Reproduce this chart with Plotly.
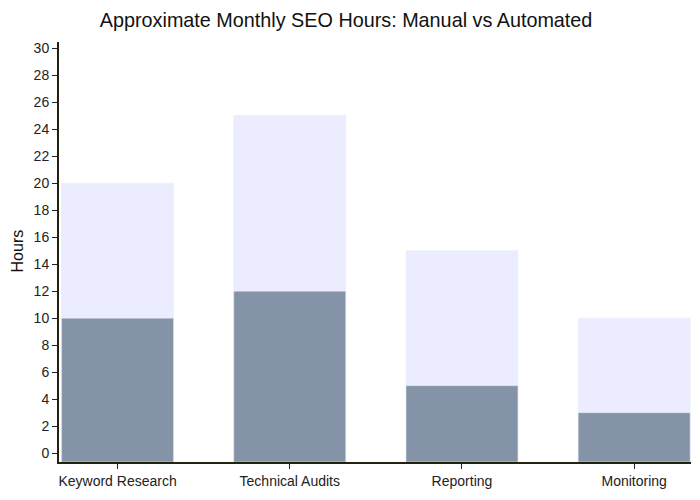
import plotly.graph_objects as go

# Monthly SEO hours per task
tasks = ["Keyword Research", "Technical Audits", "Reporting", "Monitoring"]
manual_hours = [20, 25, 15, 10]
automated_hours = [10, 12, 5, 3]
y_ticks = list(range(0, 31, 2))

# bars are drawn down to the bottom of the axis, like the original
y_floor = -0.65
y_top = 30.45

fig = go.Figure()

fig.add_trace(go.Bar(
    name="Manual",
    x=tasks,
    y=[v - y_floor for v in manual_hours],
    base=y_floor,
    marker_color="#ECECFF",
    width=0.65,
))

fig.add_trace(go.Bar(
    name="Automated",
    x=tasks,
    y=[v - y_floor for v in automated_hours],
    base=y_floor,
    marker_color="#8593A8",
    width=0.65,
))

fig.update_layout(
    width=700,
    height=500,
    barmode="overlay",
    showlegend=False,
    plot_bgcolor="white",
    paper_bgcolor="white",
    font=dict(family="Liberation Sans, Arial, sans-serif", size=14, color="#222222"),
    title=dict(
        text="Approximate Monthly SEO Hours: Manual vs Automated",
        x=0.483,
        xanchor="center",
        yref="container",
        y=0.976,
        yanchor="middle",
        automargin=False,
        font=dict(size=19.8, color="#111111"),
    ),
    margin=dict(l=51, r=17, t=34, b=46, autoexpand=False),
)

# y axis title placed as an annotation so it sits where the original has it
fig.add_annotation(
    text="Hours",
    xref="paper",
    yref="paper",
    x=-0.066,
    y=0.502,
    xanchor="center",
    yanchor="middle",
    textangle=-90,
    showarrow=False,
    font=dict(size=16, color="#111111"),
)

fig.update_xaxes(
    range=[-0.34, 3.33],
    automargin=False,
    showline=True,
    linecolor="#222211",
    linewidth=2,
    ticks="outside",
    ticklen=5,
    tickcolor="#222222",
    showgrid=False,
)

fig.update_yaxes(
    automargin=False,
    range=[y_floor, y_top],
    tickvals=y_ticks,
    showline=True,
    linecolor="#222211",
    linewidth=2,
    ticks="outside",
    ticklen=5,
    tickcolor="#222222",
    showgrid=False,
    zeroline=False,
)

fig.write_html("out.html")
